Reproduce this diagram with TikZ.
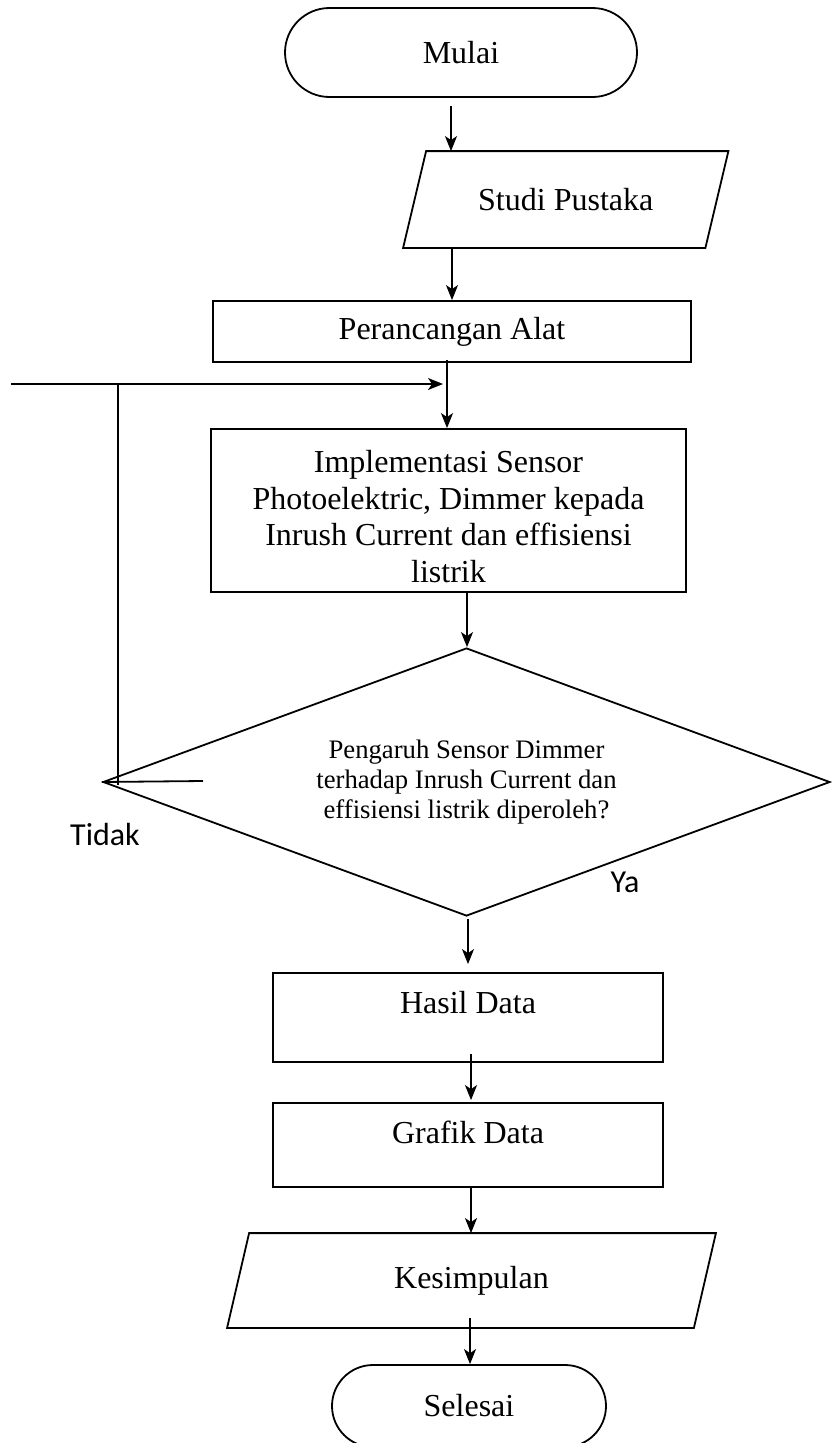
\documentclass[tikz,border=0pt]{standalone}
\usepackage{fontspec}
\setmainfont{Liberation Serif}
\newfontfamily\calibri{Carlito}
\usepackage{tikz}
\usetikzlibrary{shapes,arrows,arrows.meta,positioning,calc}

\begin{document}
\begin{tikzpicture}[x=1pt, y=-1pt, line width=1.8pt, >={Stealth[length=15pt,width=12pt,inset=4pt]}]
\tikzset{
term/.style     = {draw, shape=rounded rectangle, inner sep=0pt, font=\fontsize{32}{36.8}\selectfont},
io/.style       = {shape=rectangle, inner sep=0pt, font=\fontsize{32}{36.8}\selectfont},
block/.style    = {draw, shape=rectangle, inner sep=0pt, align=center, font=\fontsize{32}{36.5}\selectfont},
decision/.style = {draw, shape=diamond, aspect=2.7, inner sep=0pt, align=center, font=\fontsize{26.7}{30}\selectfont},
answer/.style   = {font=\calibri\fontsize{32}{38}\selectfont},
coord/.style    = {coordinate},
}
    \useasboundingbox (0,0) rectangle (831,1443);

    % Flow nodes
    \node [term, minimum width=352pt, minimum height=89pt]  (flow_mulai)   at (461,52.5)   {Mulai};
    \node [io, minimum width=300.5pt, minimum height=95pt]  (flow_studi)   at (565.75,199.5) {Studi Pustaka};
    \node [block, minimum width=478pt, minimum height=61pt] (flow_rancang) at (452,331.5)  {Perancangan Alat};
    \node [block, minimum width=475pt, minimum height=163pt] (flow_impl)   at (448.5,510.5)
        {\rule{0pt}{34pt}Implementasi Sensor\\Photoelektric, Dimmer kepada\\Inrush Current dan effisiensi\\listrik};
    \node [decision, minimum width=727pt, minimum height=268pt] (flow_cek) at (466.5,782)
        {Pengaruh Sensor Dimmer\\terhadap Inrush Current dan\\effisiensi listrik diperoleh?};
    \node [block, minimum width=390pt, text height=40.6pt, text depth=48.4pt] (flow_hasil)  at (468,1017.5) {Hasil Data};
    \node [block, minimum width=390pt, text height=40.6pt, text depth=43.4pt] (flow_grafik) at (468,1145)   {Grafik Data};
    \node [io, minimum width=465pt, minimum height=93pt]    (flow_simpul)  at (471.5,1280.5) {Kesimpulan};
    \node [term, minimum width=274pt, minimum height=82pt]  (flow_selesai) at (469,1406)   {Selesai};

    % Slanted input/output boxes
    \foreach \n/\s in {flow_studi/11.5, flow_simpul/11}
        \draw ($(\n.north west)+(\s,0)$) -- ($(\n.north east)+(\s,0)$)
           -- ($(\n.south east)+(-\s,0)$) -- ($(\n.south west)+(-\s,0)$) -- cycle;

    % Answer labels
    \node [answer] (lbl_tidak) at (105,834) {Tidak};
    \node [answer] (lbl_ya)    at (625,882) {Ya};

    % Edge start points
    \coordinate (e_mulai)   at ($(flow_mulai.south)+(-10,8)$);
    \coordinate (e_rancang) at ($(flow_rancang.south)+(-5,-3)$);
    \coordinate (e_impl)    at ($(flow_impl.south)+(18.5,0)$);
    \coordinate (e_cek)     at ($(flow_cek.south)+(1.5,2)$);
    \coordinate (e_hasil)   at ($(flow_hasil.south)+(3,-9)$);
    \coordinate (e_grafik)  at ($(flow_grafik.south)+(3,0)$);
    \coordinate (e_simpul)  at ($(flow_simpul.south)+(-1.5,-10)$);

    % Flow edges
    \draw [->] (e_mulai) -- (e_mulai |- flow_studi.north);
    \draw [->] (flow_studi.south -| flow_rancang.north) -- (flow_rancang.north);
    \draw [->] (e_rancang) -- (e_rancang |- flow_impl.north);
    \draw [->] (e_impl) -- (e_impl |- flow_cek.north);
    \draw [->] (e_cek) -- ($(flow_hasil.north)+(0,-8)$);
    \draw [->] (e_hasil) -- ($(flow_grafik.north)+(3,-2)$);
    \draw [->] (e_grafik) -- (e_grafik |- flow_simpul.north);
    \draw [->] (e_simpul) -- (e_simpul |- flow_selesai.north);

    % Feedback nodes
    \coordinate (fb_in)     at (11,384);
    \coordinate (fb_end)    at (443,384);
    \coordinate (fb_top)    at (118,385);
    \coordinate (fb_bottom) at (118,785);
    \coordinate (fb_stub)   at (203,781);

    % Feedback edges
    \draw [->] (fb_in) -- (fb_end);
    \draw [line width=1.4pt] (fb_top) -- (fb_bottom);
    \draw (flow_cek.west) -- (fb_stub);

\end{tikzpicture}
\end{document}
